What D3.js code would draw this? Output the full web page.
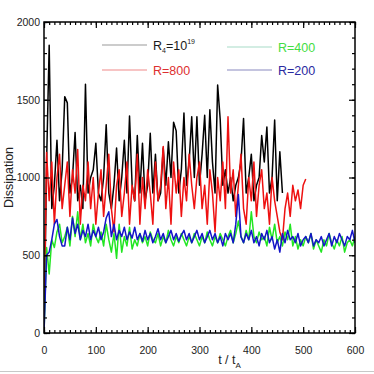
<!DOCTYPE html>
<html>
<head>
<meta charset="utf-8">
<script src="https://cdn.jsdelivr.net/npm/d3@7"></script>
<style>
  body { margin: 0; background: #fff; }
  svg { display: block; font-family: "Liberation Sans", Arial, sans-serif; }
</style>
</head>
<body>
<div id="chart"></div>
<script>
// sampled every tStep units of t / t_A
var tStep = 5;

var r4Vals = [0, 1100, 1850, 800, 950, 1240, 850, 1050, 1520, 1480, 900, 1000, 1290, 850, 950, 800,
  1600, 900, 1000, 1050, 1220, 900, 850, 1000, 1340, 900, 800, 950, 1190, 850, 1000, 1240,
  900, 1395, 950, 850, 1270, 900, 1220, 850, 950, 1285, 900, 1150, 850, 900, 1190, 950,
  1230, 1000, 1355, 1300, 900, 1050, 1415, 950, 1100, 1390, 1000, 1390, 950, 1150, 1400, 1000,
  1435, 1100, 900, 1595, 1370, 950, 1050, 900, 1000, 850, 950, 1000, 1100, 1380, 900, 1000,
  1150, 850, 950, 1000, 1270, 1100, 1325, 900, 1000, 1370, 850, 1165, 900];

var r800Vals = [0, 1160, 850, 1100, 700, 1000, 1150, 800, 950, 1100, 750, 1050, 900, 1180, 700, 950,
  850, 1100, 800, 1000, 700, 900, 1050, 750, 950, 1150, 800, 650, 950, 1050, 750, 900,
  1100, 700, 950, 850, 1150, 700, 1000, 800, 1050, 900, 700, 1100, 850, 950, 1200, 800,
  1000, 700, 1100, 900, 1050, 750, 1000, 850, 1150, 950, 800, 1000, 1100, 800, 950, 700,
  1050, 900, 650, 1000, 850, 1100, 800, 1390, 900, 1050, 750, 950, 1150, 800, 700, 1000,
  850, 1100, 750, 950, 1050, 800, 900, 700, 1000, 850, 750, 650, 600, 800, 900, 750,
  950, 850, 920, 800, 950, 990];

var r400Vals = [0, 550, 380, 600, 550, 650, 700, 580, 620, 680, 560, 750, 620, 780, 600, 700,
  580, 640, 560, 700, 620, 580, 650, 560, 700, 600, 520, 640, 480, 700, 520, 620,
  560, 680, 540, 600, 560, 640, 580, 620, 560, 650, 600, 580, 640, 560, 620, 580,
  660, 600, 560, 620, 580, 640, 600, 560, 620, 580, 640, 600, 560, 620, 580, 650,
  600, 560, 620, 580, 640, 600, 560, 620, 660, 580, 640, 720, 620, 580, 660, 600,
  780, 620, 580, 650, 600, 620, 560, 680, 600, 700, 580, 620, 560, 650, 600, 700,
  560, 620, 540, 600, 560, 620, 580, 640, 540, 600, 560, 520, 600, 560, 640, 580,
  540, 600, 560, 620, 520, 580, 600, 560, 620];

var r200Vals = [0, 500, 520, 600, 700, 730, 620, 560, 560, 680, 600, 740, 640, 700, 600, 660,
  620, 700, 600, 660, 620, 680, 600, 650, 740, 780, 620, 700, 600, 660, 620, 680,
  600, 650, 610, 680, 600, 640, 590, 660, 600, 640, 580, 620, 670, 600, 640, 580,
  620, 660, 600, 640, 590, 630, 660, 600, 640, 580, 620, 660, 600, 640, 580, 620,
  660, 600, 640, 580, 620, 560, 640, 600, 640, 580, 700, 890, 620, 580, 640, 600,
  660, 580, 620, 560, 640, 600, 660, 580, 620, 540, 600, 520, 640, 580, 660, 600,
  620, 580, 640, 560, 600, 620, 580, 640, 560, 600, 580, 620, 560, 600, 640, 560,
  620, 580, 640, 600, 560, 620, 600, 660, 580];

var xTicks = [0, 100, 200, 300, 400, 500, 600];
var yTicks = [0, 500, 1000, 1500, 2000];

var series = [
  {vals: r4Vals, color: "#000000"},
  {vals: r800Vals, color: "#ee1111"},
  {vals: r400Vals, color: "#22e622"},
  {vals: r200Vals, color: "#1414c8"}
];

var margin = {top: 22, right: 19, bottom: 41, left: 44},
    width = 374 - margin.left - margin.right,
    height = 374 - margin.top - margin.bottom;

var root = d3.select("#chart")
  .append("svg")
    .attr("width", 374)
    .attr("height", 374);

// faint frame line at the bottom of the picture
root.append("line")
  .attr("x1", 0).attr("x2", 374)
  .attr("y1", 371.5).attr("y2", 371.5)
  .style("stroke", "#c8c8c8");

var svg = root.append("g")
    .attr("transform", "translate(" + margin.left + "," + margin.top + ")");

var x = d3.scaleLinear().domain([0, 600]).range([0, width]);
var y = d3.scaleLinear().domain([0, 2000]).range([height, 0]);

svg.append("clipPath").attr("id", "clip")
  .append("rect").attr("width", width).attr("height", height);

var line = d3.line()
  .x(function (d, i) { return x(i * tStep); })
  .y(function (d) { return y(d); });

var plot = svg.append("g").attr("clip-path", "url(#clip)");
series.forEach(function (s) {
  plot.append("path")
    .datum(s.vals)
    .attr("d", line)
    .style("fill", "none")
    .style("stroke", s.color)
    .style("stroke-width", 1.5)
    .style("stroke-linejoin", "round");
});

// axes: major ticks inward, minor ticks, mirrored on top / right
function styleAxis(g) {
  g.select(".domain").remove();
  g.selectAll(".tick line").style("stroke", "#000").style("stroke-width", 1.2);
  g.selectAll("text").style("font-size", "10.5px").style("fill", "#222")
    .style("font-family", "Liberation Sans, Arial, sans-serif");
}

svg.append("g")
  .attr("transform", "translate(0," + height + ")")
  .call(d3.axisBottom(x).tickValues(xTicks).tickSize(-6).tickPadding(14).tickFormat(d3.format("d")))
  .call(styleAxis);
svg.append("g")
  .attr("transform", "translate(0," + height + ")")
  .call(d3.axisBottom(x).tickValues(d3.range(0, 601, 10)).tickSize(-3).tickFormat(""))
  .call(styleAxis);
svg.append("g")
  .call(d3.axisTop(x).tickValues(xTicks).tickSize(-6).tickFormat(""))
  .call(styleAxis);
svg.append("g")
  .call(d3.axisTop(x).tickValues(d3.range(0, 601, 10)).tickSize(-3).tickFormat(""))
  .call(styleAxis);

svg.append("g")
  .call(d3.axisLeft(y).tickValues(yTicks).tickSize(-6).tickPadding(4).tickFormat(d3.format("d")))
  .call(styleAxis);
svg.append("g")
  .call(d3.axisLeft(y).tickValues(d3.range(0, 2001, 100)).tickSize(-3).tickFormat(""))
  .call(styleAxis);
svg.append("g")
  .attr("transform", "translate(" + width + ",0)")
  .call(d3.axisRight(y).tickValues(yTicks).tickSize(-6).tickFormat(""))
  .call(styleAxis);
svg.append("g")
  .attr("transform", "translate(" + width + ",0)")
  .call(d3.axisRight(y).tickValues(d3.range(0, 2001, 100)).tickSize(-3).tickFormat(""))
  .call(styleAxis);

svg.append("rect")
  .attr("width", width).attr("height", height)
  .style("fill", "none")
  .style("stroke", "#000")
  .style("stroke-width", 1.5);

// axis titles
var xt = svg.append("text")
  .attr("x", x(300) + 30)
  .attr("y", height + 31)
  .attr("text-anchor", "middle")
  .style("font-size", "12.5px")
  .style("fill", "#222");
xt.append("tspan").text("t / t");
xt.append("tspan").attr("dy", 4).style("font-size", "8px").text("A");

svg.append("text")
  .attr("transform", "translate(-31," + (height / 2) + ") rotate(-90)")
  .attr("text-anchor", "middle")
  .style("font-size", "12.5px")
  .style("fill", "#222")
  .text("Dissipation");

// legend
var legend = [
  {x: 58, y: 23, line: "#9a9a9a", text: "#1a1a1a", label: "R4"},
  {x: 183, y: 25, line: "#a8dcc8", text: "#44dd44", label: "R=400"},
  {x: 58, y: 48, line: "#f08a8a", text: "#dd3030", label: "R=800"},
  {x: 183, y: 48, line: "#8a8ac0", text: "#2a2aa0", label: "R=200"}
];
legend.forEach(function (l) {
  svg.append("line")
    .attr("x1", l.x).attr("x2", l.x + 45)
    .attr("y1", l.y).attr("y2", l.y)
    .style("stroke", l.line).style("stroke-width", 1.2);
  var t = svg.append("text")
    .attr("x", l.x + 51).attr("y", l.y + 4.5)
    .style("font-size", "12.5px")
    .style("fill", l.text);
  if (l.label === "R4") {
    t.append("tspan").text("R");
    t.append("tspan").attr("dy", 3).style("font-size", "7px").text("4");
    t.append("tspan").attr("dy", -3).text("=10");
    t.append("tspan").attr("dy", -6).style("font-size", "7px").text("19");
  } else {
    t.text(l.label);
  }
});
</script>
</body>
</html>
